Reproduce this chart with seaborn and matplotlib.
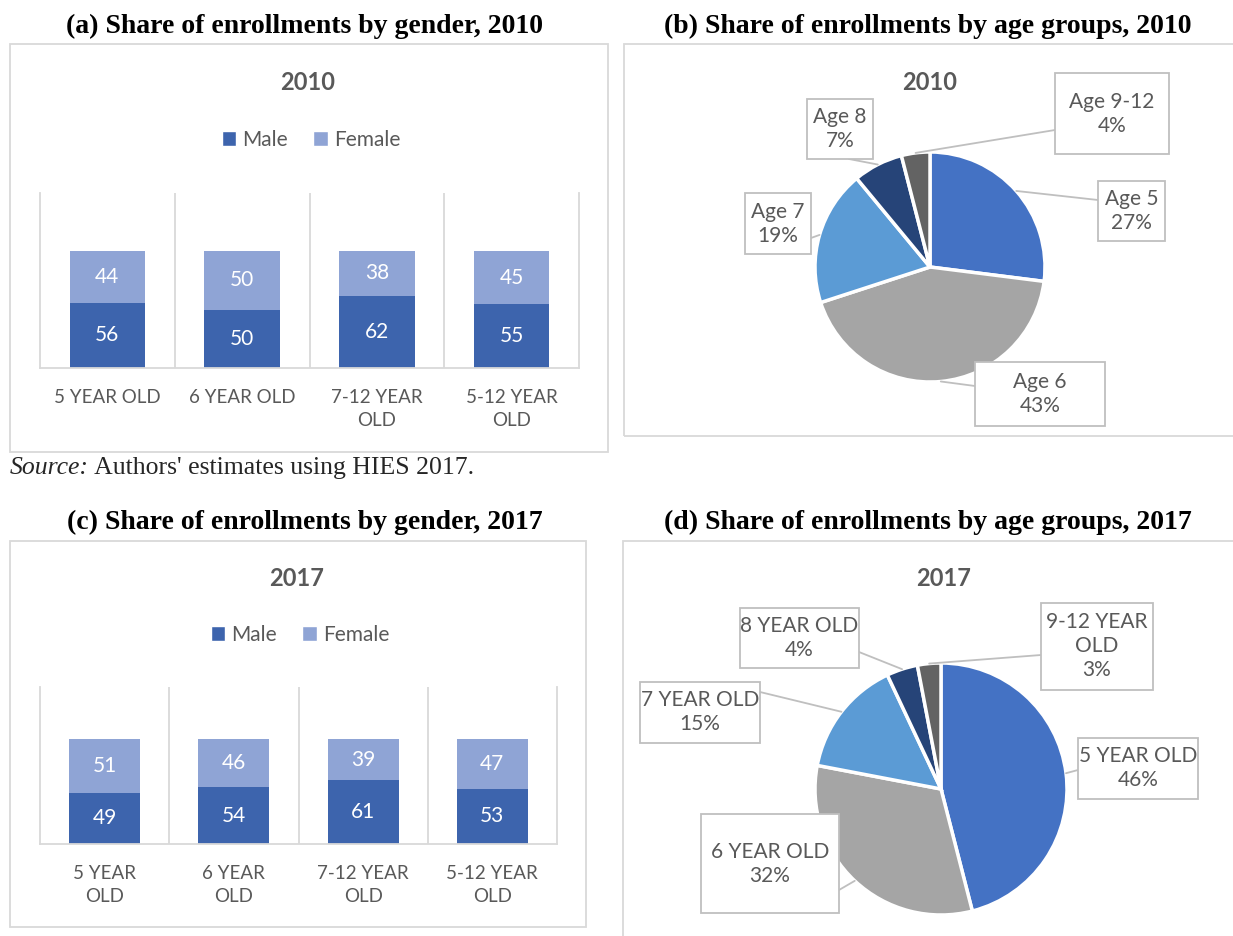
import numpy as np
import pandas as pd
import matplotlib
matplotlib.use("Agg")
import matplotlib.pyplot as plt
from matplotlib.patches import Rectangle, Patch
import seaborn as sns

sns.set_theme(style="white")
plt.rcParams['font.family'] = ['Lato', 'DejaVu Sans']

W, H = 1233, 936

# ---- data ----
age_groups = ['5 YEAR OLD', '6 YEAR OLD', '7-12 YEAR OLD', '5-12 YEAR OLD']
male_2010 = [56, 50, 62, 55]
female_2010 = [44, 50, 38, 45]
male_2017 = [49, 54, 61, 53]
female_2017 = [51, 46, 39, 47]
ticks_2010 = ['5 YEAR OLD', '6 YEAR OLD', '7-12 YEAR\nOLD', '5-12 YEAR\nOLD']
ticks_2017 = ['5 YEAR\nOLD', '6 YEAR\nOLD', '7-12 YEAR\nOLD', '5-12 YEAR\nOLD']

pie_labels_2010 = ['Age 5', 'Age 6', 'Age 7', 'Age 8', 'Age 9-12']
pie_shares_2010 = [27, 43, 19, 7, 4]
pie_labels_2017 = ['5 YEAR OLD', '6 YEAR OLD', '7 YEAR OLD', '8 YEAR OLD', '9-12 YEAR\nOLD']
pie_shares_2017 = [46, 32, 15, 4, 3]

# ---- styles ----
male_color = '#3D64AD'
female_color = '#8FA4D5'
pie_colors = ['#4472C4', '#A5A5A5', '#5B9BD5', '#264478', '#636363']
grey_text = '#595959'
line_grey = '#D9D9D9'
box_grey = '#BFBFBF'
serif = ['Liberation Serif', 'DejaVu Serif']

fig = plt.figure(figsize=(W / 100, H / 100), dpi=100)


def fig_rect(x0, y0, x1, y1):
    # pixel box of the reference (y down) -> figure fraction rect
    return [x0 / W, 1 - y1 / H, (x1 - x0) / W, (y1 - y0) / H]


def fig_xy(x, y):
    return (x / W, 1 - y / H)


def frame(x0, y0, x1, y1):
    fig.add_artist(Rectangle(fig_xy(x0, y1), (x1 - x0) / W, (y1 - y0) / H,
                             transform=fig.transFigure, fill=False,
                             ec=line_grey, lw=1.3, zorder=0.5))


def bar_panel(plot_box, male, female, ticks, year, title_xy, legend_xy, shrink):
    df = pd.DataFrame({'age': age_groups * 2,
                       'sex': ['Male'] * 4 + ['Female'] * 4,
                       'share': male + female})
    ax = fig.add_axes(fig_rect(*plot_box))
    sns.histplot(data=df, x='age', hue='sex', weights='share', multiple='stack',
                 discrete=True, shrink=shrink, hue_order=['Female', 'Male'],
                 palette={'Male': male_color, 'Female': female_color},
                 alpha=1, linewidth=0, legend=False, ax=ax)
    for c in ax.containers:
        ax.bar_label(c, label_type='center', color='white', fontsize=15)
    ax.set_ylim(0, 150)
    ax.set_xlim(-0.5, 3.5)
    ax.set_xticks(range(4), labels=ticks)
    ax.set_xticks([0.5, 1.5, 2.5], minor=True)
    ax.set_yticks([])
    ax.set_xlabel('')
    ax.set_ylabel('')
    ax.grid(False)
    ax.grid(axis='x', which='minor', color=line_grey, lw=1.3)
    ax.tick_params(axis='x', which='both', length=0, pad=15,
                   labelcolor=grey_text, labelsize=13.5)
    for lbl in ax.get_xticklabels():
        lbl.set_linespacing(1.45)
    ax.spines['top'].set_visible(False)
    for s in ['left', 'right', 'bottom']:
        ax.spines[s].set_color(line_grey)
        ax.spines[s].set_linewidth(1.3)
    fig.text(*fig_xy(*title_xy), year, ha='center', va='center',
             fontsize=17, fontweight='bold', color=grey_text)
    fig.legend(handles=[Patch(fc=male_color), Patch(fc=female_color)],
               labels=['Male', 'Female'], loc='center',
               bbox_to_anchor=fig_xy(*legend_xy), ncol=2, frameon=False,
               fontsize=15, labelcolor=grey_text, handlelength=0.7,
               handleheight=0.7, handletextpad=0.3, columnspacing=1.2)
    return ax


def pie_panel(center, radius, shares, labels, boxes, tails, year, title_xy):
    cx, cy = center
    m = radius * 1.05
    ax = fig.add_axes(fig_rect(cx - m, cy - m, cx + m, cy + m))
    wedges, _ = ax.pie(shares, colors=pie_colors, startangle=90, counterclock=False,
                       wedgeprops=dict(edgecolor='white', linewidth=2.5))
    ax.set_xlim(-1.05, 1.05)
    ax.set_ylim(-1.05, 1.05)
    ax.set_axis_off()
    for w, lab, share, box, tail in zip(wedges, labels, shares, boxes, tails):
        ang = np.deg2rad((w.theta1 + w.theta2) / 2)
        ax.annotate('', xy=(np.cos(ang), np.sin(ang)), xycoords='data',
                    xytext=fig_xy(*tail), textcoords='figure fraction',
                    arrowprops=dict(arrowstyle='-', color=box_grey, lw=1.3,
                                    shrinkA=0, shrinkB=0),
                    annotation_clip=False)
        x0, y0, x1, y1 = box
        fig.add_artist(Rectangle(fig_xy(x0, y1), (x1 - x0) / W, (y1 - y0) / H,
                                 transform=fig.transFigure, fc='white',
                                 ec=box_grey, lw=1.3, zorder=2))
        fig.text(*fig_xy((x0 + x1) / 2, (y0 + y1) / 2), f'{lab}\n{share}%',
                 ha='center', va='center', ma='center', color=grey_text,
                 fontsize=15, linespacing=1.25, zorder=3)
    fig.text(*fig_xy(*title_xy), year, ha='center', va='center',
             fontsize=17, fontweight='bold', color=grey_text)
    return ax


# panel frames
frame(10, 44, 608, 452)
frame(624, 44, 1245, 436)
frame(10, 541, 586, 927)
frame(623, 541, 1245, 950)

# panel titles
title_kw = dict(ha='center', va='center', fontsize=20, fontweight='bold',
                family=serif, color='black')
fig.text(*fig_xy(305, 26), '(a) Share of enrollments by gender, 2010', **title_kw)
fig.text(*fig_xy(928, 26), '(b) Share of enrollments by age groups, 2010', **title_kw)
fig.text(*fig_xy(305, 522), '(c) Share of enrollments by gender, 2017', **title_kw)
fig.text(*fig_xy(928, 522), '(d) Share of enrollments by age groups, 2017', **title_kw)

ax_a = bar_panel((40, 193, 579, 368), male_2010, female_2010, ticks_2010, '2010',
                 (308, 83), (311, 140), 0.56)
ax_c = bar_panel((40, 687, 557, 844), male_2017, female_2017, ticks_2017, '2017',
                 (297, 578), (300, 635), 0.55)

# callout boxes and leader start points (reference pixels)
boxes_2010 = [(1098, 181, 1165, 241), (975, 362, 1105, 426), (745, 193, 811, 254),
              (807, 99, 873, 159), (1055, 73, 1169, 154)]
tails_2010 = [(1098, 200), (975, 386), (811, 238), (849, 159), (1055, 130)]
boxes_2017 = [(1078, 738, 1198, 799), (701, 814, 839, 913), (640, 682, 760, 743),
              (740, 608, 859, 668), (1041, 603, 1153, 690)]
tails_2017 = [(1078, 770), (839, 890), (760, 692), (859, 652), (1041, 655)]

pie_panel((930, 267), 115, pie_shares_2010, pie_labels_2010, boxes_2010, tails_2010,
          '2010', (930, 83))
pie_panel((941, 789), 126, pie_shares_2017, pie_labels_2017, boxes_2017, tails_2017,
          '2017', (944, 578))

# source note
t1 = fig.text(*fig_xy(10, 468), 'Source:', style='italic', family=serif,
              fontsize=18.5, ha='left', va='center')
ax_a.annotate(" Authors' estimates using HIES 2017.", xy=(1, 0.5), xycoords=t1,
              ha='left', va='center', family=serif, fontsize=18.5,
              annotation_clip=False)

fig.savefig('out.png', dpi=100)
